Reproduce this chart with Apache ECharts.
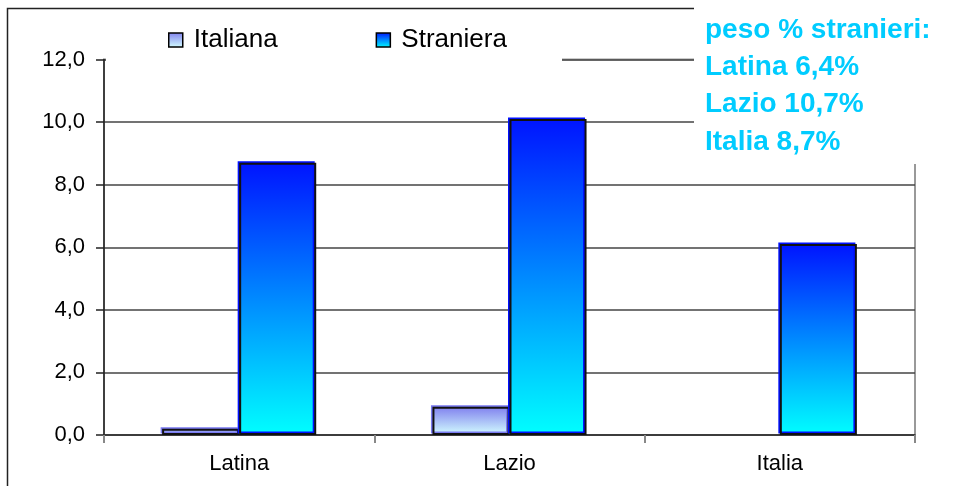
<!DOCTYPE html>
<html>
<head>
<meta charset="utf-8">
<script src="https://cdn.jsdelivr.net/npm/echarts@6/dist/echarts.min.js"></script>
<style>
  html, body { margin: 0; padding: 0; background: #fff; }
  #chart { width: 954px; height: 486px; }
</style>
</head>
<body>
<div id="chart"></div>
<script>
// Territories on the category axis
const categories = ['Latina', 'Lazio', 'Italia'];
// Series values
const italiana = [0.2, 0.9, 0.0];
const straniera = [8.7, 10.1, 6.1];
// Value-axis tick labels (Italian decimal comma)
const yTickLabels = ['0,0', '2,0', '4,0', '6,0', '8,0', '10,0', '12,0'];
// Side note: foreign share of the population
const shareTitle = 'peso % stranieri:';
const shareAreas = ['Latina', 'Lazio', 'Italia'];
const shareValues = ['6,4%', '10,7%', '8,7%'];

const FONT = '"Liberation Sans", Arial, sans-serif';
const chart = echarts.init(document.getElementById('chart'));

const gradStraniera = new echarts.graphic.LinearGradient(0, 0, 0, 1, [
  { offset: 0, color: '#0014ff' },
  { offset: 1, color: '#00ffff' }
]);
const gradItaliana = new echarts.graphic.LinearGradient(0, 0, 0, 1, [
  { offset: 0, color: '#8080ee' },
  { offset: 1, color: '#d4ffff' }
]);

// A zero value leaves no visible bar (no outline, no edge shading)
const barData = values => values.map(v => v === 0
  ? { value: v, itemStyle: { opacity: 0 } }
  : v);

const noteLines = [shareTitle].concat(shareAreas.map((a, i) => a + ' ' + shareValues[i]));

chart.setOption({
  animation: false,
  backgroundColor: '#fff',
  textStyle: { fontFamily: FONT },
  grid: { left: 104, right: 39, top: 59.5, bottom: 51, show: true, borderColor: '#999', borderWidth: 2 },
  legend: {
    left: 163, top: 22, z: 4,
    itemWidth: 14, itemHeight: 14, itemGap: 98,
    icon: 'rect',
    textStyle: { fontSize: 26, color: '#000', fontFamily: FONT, padding: [0, 0, 0, 6] },
    itemStyle: { shadowBlur: 0, shadowOffsetX: 0, shadowOffsetY: 0, shadowColor: 'transparent', borderColor: '#000', borderWidth: 1.5 },
    data: ['Italiana', 'Straniera']
  },
  xAxis: {
    type: 'category',
    data: categories,
    axisLine: { lineStyle: { color: '#333', width: 1.5 } },
    axisTick: { show: true, length: 8, lineStyle: { color: '#888', width: 2 } },
    axisLabel: { fontSize: 22, color: '#000', margin: 18, fontFamily: FONT },
    splitLine: { show: false }
  },
  yAxis: {
    type: 'value',
    min: 0, max: 12, interval: 2,
    axisLine: { show: true, lineStyle: { color: '#222', width: 1.5 } },
    axisTick: { show: true, length: 8, lineStyle: { color: '#222', width: 1.5 } },
    axisLabel: {
      fontSize: 22, color: '#000', margin: 19, fontFamily: FONT,
      formatter: v => yTickLabels[Math.round(v / 2)]
    },
    splitLine: { show: true, lineStyle: { color: '#444', width: 1.5 } }
  },
  series: [
    {
      name: 'Italiana', type: 'bar', data: barData(italiana),
      barGap: '0%', barCategoryGap: '43%',
      itemStyle: {
        color: gradItaliana, borderColor: '#111', borderWidth: 2,
        shadowColor: '#7a7af0', shadowOffsetX: -1.5, shadowOffsetY: -1.5, shadowBlur: 0
      }
    },
    {
      name: 'Straniera', type: 'bar', data: barData(straniera),
      barGap: '0%', barCategoryGap: '43%',
      itemStyle: {
        color: gradStraniera, borderColor: '#111', borderWidth: 2,
        shadowColor: '#0010ff', shadowOffsetX: -1.5, shadowOffsetY: -1.5, shadowBlur: 0
      }
    }
  ],
  graphic: [
    // outer frame of the chart area
    { type: 'rect', silent: true, z: 1, shape: { x: 7.5, y: 8.5, width: 1200, height: 1200 },
      style: { fill: 'none', stroke: '#222', lineWidth: 1.5 } },
    // legend backing
    { type: 'rect', silent: true, z: 3, shape: { x: 106, y: 14, width: 456, height: 48 },
      style: { fill: '#fff' } },
    // note box backing
    { type: 'rect', silent: true, z: 3, shape: { x: 694, y: 0, width: 260, height: 164 },
      style: { fill: '#fff' } }
  ].concat(noteLines.map((t, i) => ({
    type: 'text', silent: true, z: 5, left: 705, top: 16 + i * 37.3,
    style: { text: t, fill: '#00ccff', font: 'bold 28px ' + FONT }
  })))
});
</script>
</body>
</html>
